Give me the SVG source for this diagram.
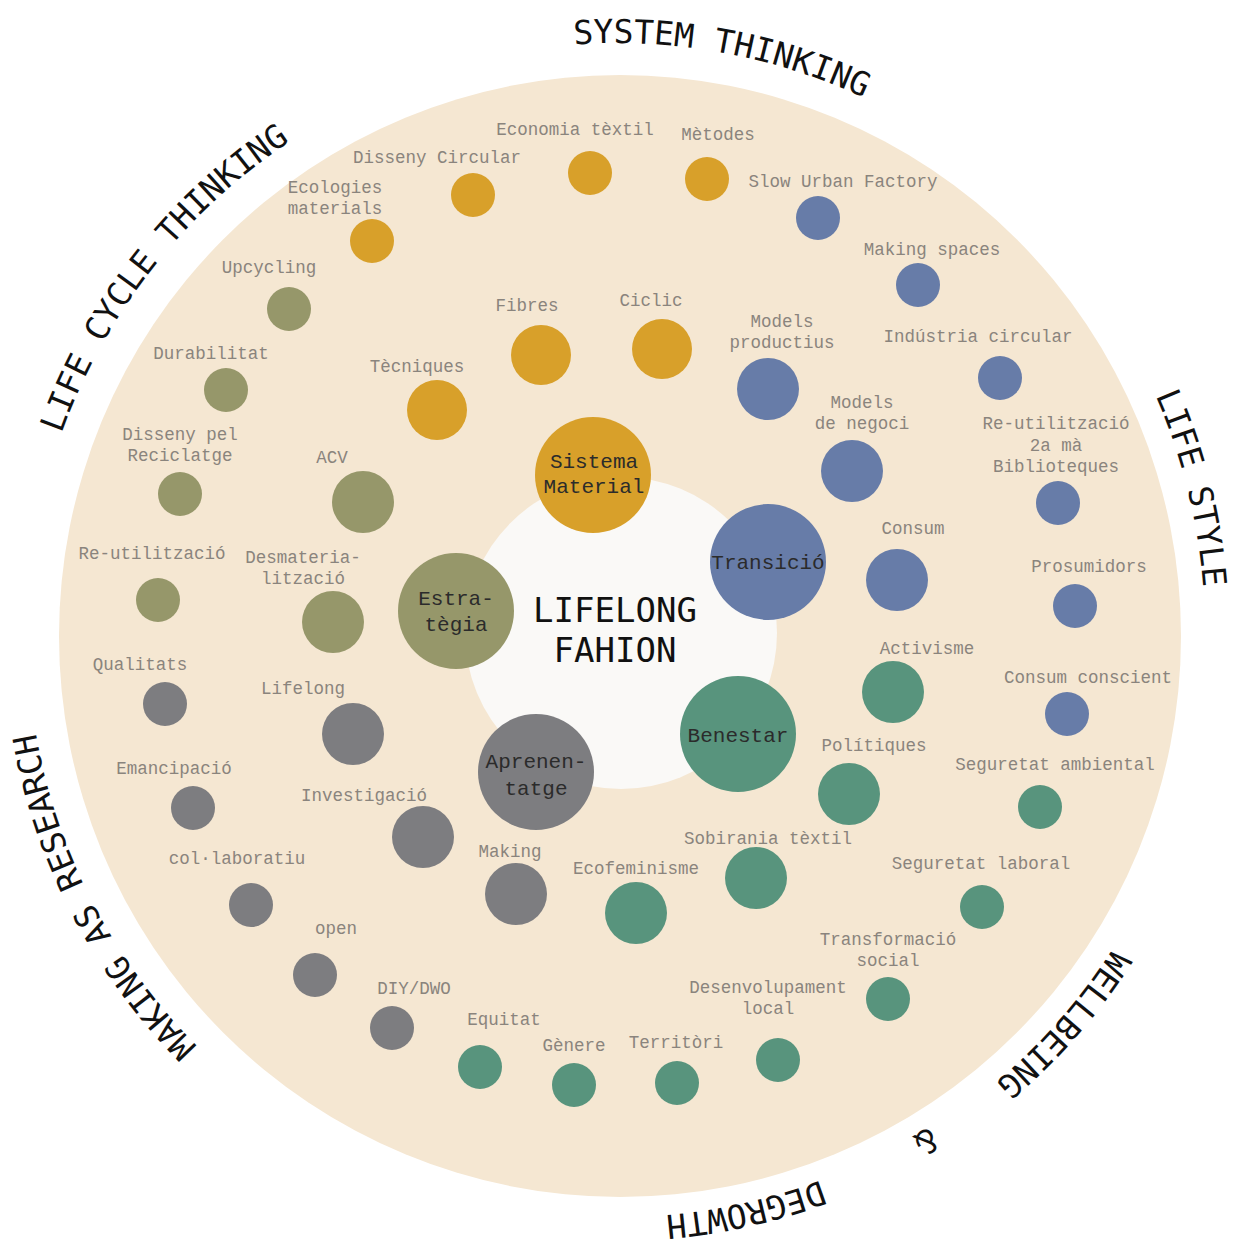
<svg xmlns="http://www.w3.org/2000/svg" xmlns:xlink="http://www.w3.org/1999/xlink" width="1242" height="1243" viewBox="0 0 1242 1243">
<style>
.lbl{font-family:"Liberation Mono","Courier New",monospace;font-size:17.5px;fill:#8a847d;text-anchor:middle}
.hub{font-family:"Liberation Mono","Courier New",monospace;font-size:21px;fill:#2b2b2b;text-anchor:middle}
.ring{font-family:"DejaVu Sans Mono",monospace;font-size:33px;fill:#111;text-anchor:middle}
.title{font-family:"DejaVu Sans Mono",monospace;font-size:34px;fill:#111;text-anchor:middle}
.g{fill:#d8a02a}.b{fill:#677ca8}.o{fill:#96976a}.k{fill:#7d7d80}.e{fill:#58947d}
</style>
<defs>
<path id="ringPath" d="M 27 632 A 589 589 0 1 1 1205 632 A 589 589 0 1 1 27 632"/>
<path id="ringPathLow" d="M 31 632 A 585 585 0 1 1 1201 632 A 585 585 0 1 1 31 632"/>
</defs>
<rect width="1242" height="1243" fill="#ffffff"/>
<circle id="outer" cx="620" cy="636" r="561" fill="#f5e7d2"/>
<circle id="hole" cx="621" cy="633" r="156" fill="#faf9f7"/>

<g id="ring-labels">
<text class="ring"><textPath xlink:href="#ringPath" href="#ringPath" startOffset="1032">SYSTEM THINKING</textPath></text>
<text class="ring"><textPath xlink:href="#ringPath" href="#ringPath" startOffset="391">LIFE CYCLE THINKING</textPath></text>
<text class="ring"><textPath xlink:href="#ringPath" href="#ringPath" startOffset="1706">LIFE STYLE</textPath></text>
<text class="ring"><textPath xlink:href="#ringPath" href="#ringPath" startOffset="2274">WELLBEING</textPath></text>
<text class="ring"><textPath xlink:href="#ringPathLow" href="#ringPathLow" startOffset="2437">&amp;</textPath></text>
<text class="ring"><textPath xlink:href="#ringPathLow" href="#ringPathLow" startOffset="2628">DEGROWTH</textPath></text>
<text class="ring"><textPath xlink:href="#ringPath" href="#ringPath" startOffset="3420">MAKING AS RESEARCH</textPath></text>
</g>

<g id="center-title">
<text class="title" x="615" y="622">LIFELONG</text>
<text class="title" x="615" y="662">FAHION</text>
</g>

<!-- Sistema Material (gold) -->
<g id="sistema-material"><circle class="g" cx="593" cy="475" r="58"/><text class="hub" x="594" y="468">Sistema</text><text class="hub" x="594" y="493">Material</text></g>
<g id="economia-textil"><circle class="g" cx="590" cy="173" r="22"/><text class="lbl" x="575" y="135">Economia tèxtil</text></g>
<g id="disseny-circular"><circle class="g" cx="473" cy="195" r="22"/><text class="lbl" x="437" y="163">Disseny Circular</text></g>
<g id="metodes"><circle class="g" cx="707" cy="179" r="22"/><text class="lbl" x="718" y="140">Mètodes</text></g>
<g id="ecologies-materials"><circle class="g" cx="372" cy="241" r="22"/><text class="lbl" x="335" y="193">Ecologies</text><text class="lbl" x="335" y="214">materials</text></g>
<g id="fibres"><circle class="g" cx="541" cy="355" r="30"/><text class="lbl" x="527" y="311">Fibres</text></g>
<g id="ciclic"><circle class="g" cx="662" cy="349" r="30"/><text class="lbl" x="651" y="306">Ciclic</text></g>
<g id="tecniques"><circle class="g" cx="437" cy="410" r="30"/><text class="lbl" x="417" y="372">Tècniques</text></g>

<!-- Transició (blue) -->
<g id="transicio"><circle class="b" cx="768" cy="562" r="58"/><text class="hub" x="768" y="569">Transició</text></g>
<g id="slow-urban-factory"><circle class="b" cx="818" cy="218" r="22"/><text class="lbl" x="843" y="187">Slow Urban Factory</text></g>
<g id="making-spaces"><circle class="b" cx="918" cy="285" r="22"/><text class="lbl" x="932" y="255">Making spaces</text></g>
<g id="models-productius"><circle class="b" cx="768" cy="389" r="31"/><text class="lbl" x="782" y="327">Models</text><text class="lbl" x="782" y="348">productius</text></g>
<g id="industria-circular"><circle class="b" cx="1000" cy="378" r="22"/><text class="lbl" x="978" y="342">Indústria circular</text></g>
<g id="models-negoci"><circle class="b" cx="852" cy="471" r="31"/><text class="lbl" x="862" y="408">Models</text><text class="lbl" x="862" y="429">de negoci</text></g>
<g id="reutilitzacio-2a-ma"><circle class="b" cx="1058" cy="503" r="22"/><text class="lbl" x="1056" y="429">Re-utilització</text><text class="lbl" x="1056" y="451">2a mà</text><text class="lbl" x="1056" y="472">Biblioteques</text></g>
<g id="consum"><circle class="b" cx="897" cy="580" r="31"/><text class="lbl" x="913" y="534">Consum</text></g>
<g id="prosumidors"><circle class="b" cx="1075" cy="606" r="22"/><text class="lbl" x="1089" y="572">Prosumidors</text></g>
<g id="consum-conscient"><circle class="b" cx="1067" cy="714" r="22"/><text class="lbl" x="1088" y="683">Consum conscient</text></g>

<!-- Estratègia (olive) -->
<g id="estrategia"><circle class="o" cx="456" cy="611" r="58"/><text class="hub" x="456" y="605">Estra-</text><text class="hub" x="456" y="631">tègia</text></g>
<g id="upcycling"><circle class="o" cx="289" cy="309" r="22"/><text class="lbl" x="269" y="273">Upcycling</text></g>
<g id="durabilitat"><circle class="o" cx="226" cy="390" r="22"/><text class="lbl" x="211" y="359">Durabilitat</text></g>
<g id="disseny-reciclatge"><circle class="o" cx="180" cy="494" r="22"/><text class="lbl" x="180" y="440">Disseny pel</text><text class="lbl" x="180" y="461">Reciclatge</text></g>
<g id="acv"><circle class="o" cx="363" cy="502" r="31"/><text class="lbl" x="332" y="463">ACV</text></g>
<g id="reutilitzacio"><circle class="o" cx="158" cy="600" r="22"/><text class="lbl" x="152" y="559">Re-utilització</text></g>
<g id="desmaterialitzacio"><circle class="o" cx="333" cy="622" r="31"/><text class="lbl" x="303" y="563">Desmateria-</text><text class="lbl" x="303" y="584">lització</text></g>

<!-- Aprenentatge (gray) -->
<g id="aprenentatge"><circle class="k" cx="536" cy="772" r="58"/><text class="hub" x="536" y="768">Aprenen-</text><text class="hub" x="536" y="795">tatge</text></g>
<g id="qualitats"><circle class="k" cx="165" cy="704" r="22"/><text class="lbl" x="140" y="670">Qualitats</text></g>
<g id="lifelong"><circle class="k" cx="353" cy="734" r="31"/><text class="lbl" x="303" y="694">Lifelong</text></g>
<g id="emancipacio"><circle class="k" cx="193" cy="808" r="22"/><text class="lbl" x="174" y="774">Emancipació</text></g>
<g id="investigacio"><circle class="k" cx="423" cy="837" r="31"/><text class="lbl" x="364" y="801">Investigació</text></g>
<g id="collaboratiu"><circle class="k" cx="251" cy="905" r="22"/><text class="lbl" x="237" y="864">col·laboratiu</text></g>
<g id="making"><circle class="k" cx="516" cy="894" r="31"/><text class="lbl" x="510" y="857">Making</text></g>
<g id="open"><circle class="k" cx="315" cy="975" r="22"/><text class="lbl" x="336" y="934">open</text></g>
<g id="diy-dwo"><circle class="k" cx="392" cy="1028" r="22"/><text class="lbl" x="414" y="994">DIY/DWO</text></g>

<!-- Benestar (green) -->
<g id="benestar"><circle class="e" cx="738" cy="734" r="58"/><text class="hub" x="738" y="742">Benestar</text></g>
<g id="activisme"><circle class="e" cx="893" cy="692" r="31"/><text class="lbl" x="927" y="654">Activisme</text></g>
<g id="politiques"><circle class="e" cx="849" cy="794" r="31"/><text class="lbl" x="874" y="751">Polítiques</text></g>
<g id="seguretat-ambiental"><circle class="e" cx="1040" cy="807" r="22"/><text class="lbl" x="1055" y="770">Seguretat ambiental</text></g>
<g id="sobirania-textil"><circle class="e" cx="756" cy="878" r="31"/><text class="lbl" x="768" y="844">Sobirania tèxtil</text></g>
<g id="ecofeminisme"><circle class="e" cx="636" cy="913" r="31"/><text class="lbl" x="636" y="874">Ecofeminisme</text></g>
<g id="seguretat-laboral"><circle class="e" cx="982" cy="907" r="22"/><text class="lbl" x="981" y="869">Seguretat laboral</text></g>
<g id="transformacio-social"><circle class="e" cx="888" cy="999" r="22"/><text class="lbl" x="888" y="945">Transformació</text><text class="lbl" x="888" y="966">social</text></g>
<g id="desenvolupament-local"><circle class="e" cx="778" cy="1060" r="22"/><text class="lbl" x="768" y="993">Desenvolupament</text><text class="lbl" x="768" y="1014">local</text></g>
<g id="equitat"><circle class="e" cx="480" cy="1067" r="22"/><text class="lbl" x="504" y="1025">Equitat</text></g>
<g id="genere"><circle class="e" cx="574" cy="1085" r="22"/><text class="lbl" x="574" y="1051">Gènere</text></g>
<g id="territori"><circle class="e" cx="677" cy="1083" r="22"/><text class="lbl" x="676" y="1048">Territòri</text></g>
</svg>
